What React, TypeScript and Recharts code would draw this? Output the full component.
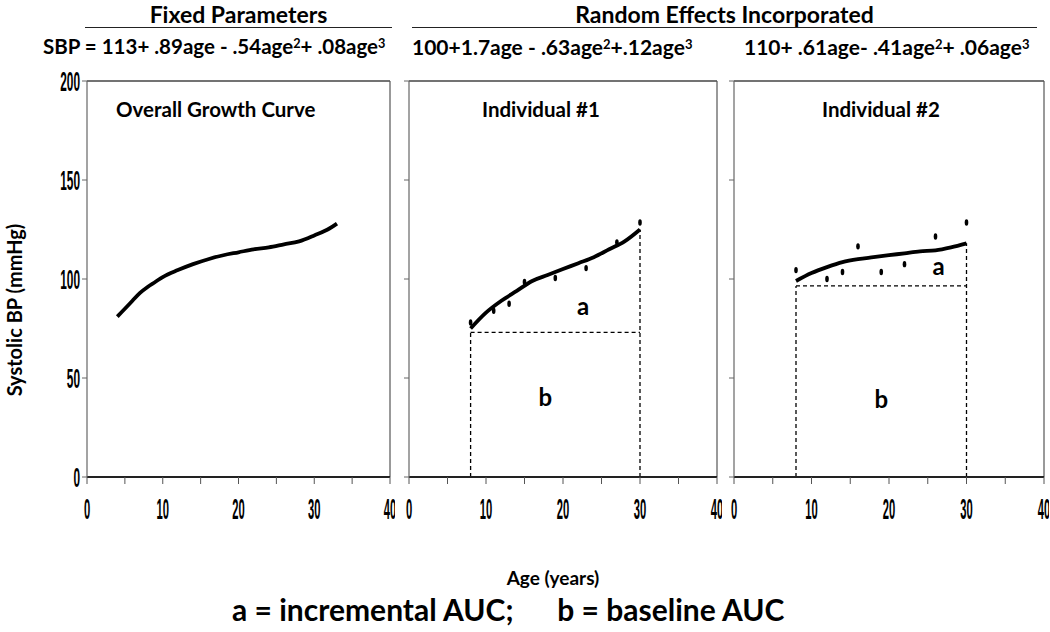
import React from 'react'
import {
  ComposedChart, Line, Scatter, XAxis, YAxis, ReferenceLine, ReferenceDot,
} from 'recharts'

// overall (fixed parameters) growth curve
const overallAge = [4, 5, 6, 7, 8, 9, 10, 12, 14, 16, 18, 20, 22, 24, 26, 28, 30, 32, 33]
const overallSbp = [81, 85, 89, 93, 96, 98.5, 101, 104.5, 107.5, 110, 112, 113.5, 115, 116, 117.5, 119, 122, 125.5, 128]

// individual #1
const ind1Age = [8, 10, 12, 14, 16, 18, 20, 22, 24, 26, 28, 30]
const ind1Sbp = [75, 83, 89, 94, 99, 102, 105, 108, 111, 115, 119, 125]
const ind1ObsAge = [8, 11, 13, 15, 19, 23, 27, 30]
const ind1ObsSbp = [78, 84, 87.5, 98.5, 100.5, 105.5, 118.5, 128.5]
const ind1Base = 73

// individual #2
const ind2Age = [8, 10, 12, 14, 16, 18, 20, 22, 24, 26, 28, 30]
const ind2Sbp = [99, 103, 106, 108.5, 110, 111, 112, 113, 114, 114.5, 116, 118]
const ind2ObsAge = [8, 12, 14, 16, 19, 22, 26, 30]
const ind2ObsSbp = [104.5, 100, 103.5, 116.5, 103.5, 107.5, 121.5, 128.5]
const ind2Base = 96.5

const aucStart = 8
const aucEnd = 30

const xTicks = [0, 5, 10, 15, 20, 25, 30, 35, 40]
const yTicks = [0, 50, 100, 150, 200]

const toPts = (xs: number[], ys: number[]) => xs.map((x, i) => ({ x, y: ys[i] }))

const FONT = 'Lato, "Open Sans", sans-serif'
const NUM_FONT = '"Liberation Sans", Arial, sans-serif'

const XTick = (props: any) => {
  const { x, y, payload } = props
  if (payload.value % 10 !== 0) return <g />
  return (
    <text transform={`translate(${x},${y + 33}) scale(0.7,1.8)`} textAnchor="middle"
      fontFamily={NUM_FONT} fontWeight="bold" fontSize={16} fill="#000">
      {payload.value}
    </text>
  )
}

const YTick = (props: any) => {
  const { x, y, payload } = props
  return (
    <text transform={`translate(${x},${y}) scale(0.74,1.75)`} textAnchor="end" dy={5.7}
      fontFamily={NUM_FONT} fontWeight="bold" fontSize={16} fill="#000">
      {payload.value}
    </text>
  )
}

const NoTick = () => <g />

const Dot = (props: any) => <ellipse cx={props.cx} cy={props.cy} rx={1.8} ry={3.2} fill="#000" />

const Letter = (txt: string) => (props: any) => (
  <text x={props.cx} y={props.cy} dy={8} textAnchor="middle" fontFamily={FONT}
    fontWeight="bold" fontSize={24} fill="#000">{txt}</text>
)

interface PanelProps {
  left: number
  yWidth: number
  width: number
  curve: { x: number; y: number }[]
  obs?: { x: number; y: number }[]
  base?: number
  endY?: number
  aPos?: [number, number]
  bPos?: [number, number]
  labels: boolean
}

function Panel({ left, yWidth, width, curve, obs, base, endY, aPos, bPos, labels }: PanelProps) {
  const dash = { stroke: '#000', strokeWidth: 1.3, strokeDasharray: '4 3' }
  return (
    <div style={{ position: 'absolute', left, top: 0 }}>
      <ComposedChart width={width} height={527} margin={{ top: 81, right: 5, bottom: 0, left: 0 }}>
        <XAxis dataKey="x" type="number" domain={[0, 40]} ticks={xTicks} interval={0}
          tick={<XTick />} tickSize={7} axisLine={{ stroke: '#222', strokeWidth: 2 }}
          tickLine={{ stroke: '#555' }} height={50} allowDataOverflow />
        <YAxis dataKey="y" type="number" domain={[0, 200]} ticks={yTicks} interval={0}
          tick={labels ? <YTick /> : <NoTick />} tickSize={5} width={yWidth}
          axisLine={{ stroke: '#666', strokeWidth: 1.2 }} tickLine={{ stroke: '#666' }} allowDataOverflow />
        <ReferenceLine y={200} stroke="#444" strokeWidth={1.5} />
        <ReferenceLine x={40} stroke="#555" strokeWidth={1.2} />
        {base !== undefined && (
          <>
            <ReferenceLine segment={[{ x: aucStart, y: base }, { x: aucEnd, y: base }]} {...dash} />
            <ReferenceLine segment={[{ x: aucStart, y: 0 }, { x: aucStart, y: base }]} {...dash} />
            <ReferenceLine segment={[{ x: aucEnd, y: 0 }, { x: aucEnd, y: endY as number }]} {...dash} />
          </>
        )}
        <Line data={curve} dataKey="y" type="monotone" stroke="#000" strokeWidth={3.8}
          dot={false} isAnimationActive={false} />
        {obs && <Scatter data={obs} dataKey="y" shape={<Dot />} isAnimationActive={false} />}
        {aPos && <ReferenceDot x={aPos[0]} y={aPos[1]} r={0} shape={Letter('a')} />}
        {bPos && <ReferenceDot x={bPos[0]} y={bPos[1]} r={0} shape={Letter('b')} />}
      </ComposedChart>
    </div>
  )
}

const txt = (extra: React.CSSProperties): React.CSSProperties => ({
  position: 'absolute', fontFamily: FONT, fontWeight: 'bold', color: '#000',
  whiteSpace: 'nowrap', lineHeight: 1.1, ...extra,
})

const sup: React.CSSProperties = { fontSize: '0.62em', verticalAlign: '0.5em' }

export default function App() {
  return (
    <div style={{ position: 'absolute', left: 0, top: 0, width: 1050, height: 632, background: '#fff', overflow: 'hidden' }}>
      {/* header */}
      <div style={txt({ left: 85, width: 307, top: 2, textAlign: 'center', fontSize: 23 })}>Fixed Parameters</div>
      <div style={{ position: 'absolute', left: 85, width: 307, top: 27, height: 0, borderTop: '1.5px solid #222' }} />
      <div style={txt({ left: 412, width: 625, top: 2, textAlign: 'center', fontSize: 23 })}>Random Effects Incorporated</div>
      <div style={{ position: 'absolute', left: 412, width: 625, top: 27, height: 0, borderTop: '1.5px solid #222' }} />
      <div style={txt({ left: 43, top: 35, fontSize: 20.5 })}>
        SBP = 113+ .89age - .54age<span style={sup}>2</span>+ .08age<span style={sup}>3</span>
      </div>
      <div style={txt({ left: 412, top: 35, fontSize: 21 })}>
        100+1.7age - .63age<span style={sup}>2</span>+.12age<span style={sup}>3</span>
      </div>
      <div style={txt({ left: 744, top: 35, fontSize: 21 })}>
        110+ .61age- .41age<span style={sup}>2</span>+ .06age<span style={sup}>3</span>
      </div>

      <Panel left={0} yWidth={87} width={395} curve={toPts(overallAge, overallSbp)} labels />
      <Panel left={395} yWidth={14} width={327} curve={toPts(ind1Age, ind1Sbp)}
        obs={toPts(ind1ObsAge, ind1ObsSbp)} base={ind1Base} endY={ind1Sbp[ind1Sbp.length - 1]}
        aPos={[22.6, 86]} bPos={[17.7, 40]} labels={false} />
      <Panel left={722} yWidth={12} width={327} curve={toPts(ind2Age, ind2Sbp)}
        obs={toPts(ind2ObsAge, ind2ObsSbp)} base={ind2Base} endY={ind2Sbp[ind2Sbp.length - 1]}
        aPos={[26.4, 106]} bPos={[19, 39]} labels={false} />

      {/* panel titles */}
      <div style={txt({ left: 116, top: 98, fontSize: 20.5 })}>Overall Growth Curve</div>
      <div style={txt({ left: 482, top: 98, fontSize: 20.5 })}>Individual #1</div>
      <div style={txt({ left: 822, top: 98, fontSize: 20.5 })}>Individual #2</div>

      {/* axis titles */}
      <div style={txt({ left: 14, top: 310, fontSize: 20, transform: 'translate(-50%,-50%) rotate(-90deg)' })}>Systolic BP (mmHg)</div>
      <div style={txt({ left: 553, top: 578, fontSize: 19, transform: 'translate(-50%,-50%)' })}>Age (years)</div>

      <div style={txt({ left: 232, top: 594, fontSize: 30, lineHeight: 1, whiteSpace: 'pre' })}>a = incremental AUC;      b = baseline AUC</div>
    </div>
  )
}
